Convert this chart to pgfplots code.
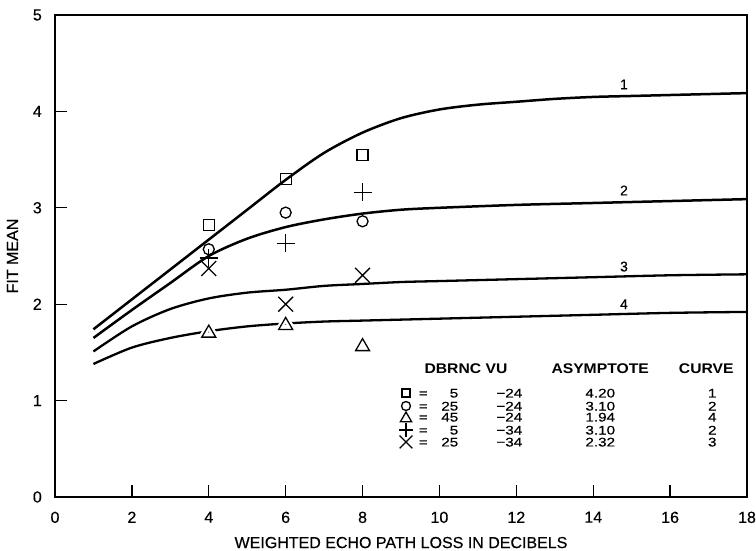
\documentclass[border=0pt]{standalone}
\usepackage{fontspec}
\setmainfont{Liberation Sans}[FakeBold=0.4]
\newfontfamily\legfont{Liberation Sans}[FakeStretch=1.22, FakeBold=0.4]
\newfontfamily\headfont{Liberation Sans}[FakeStretch=1.12]
\usepackage{pgfplots}
\pgfplotsset{compat=1.18}
\newcommand{\legrow}[4]{\makebox[18pt][c]{=}\makebox[26pt][r]{#1}\makebox[64pt][r]{#2}\makebox[156pt][c]{#3}\makebox[68pt][c]{#4}}
\pgfplotsset{
  pts/.style={only marks, forget plot, mark options={solid, line width=1.3pt, fill=white}},
  curve/.style={smooth, line width=2.5pt, black, forget plot},
}
\tikzset{
  keyrow/.style={anchor=west, inner sep=0pt, text height=9pt, text depth=0pt, font=\legfont\fontsize{12.5}{12.5}\selectfont},
  head/.style={font=\headfont\bfseries\fontsize{14}{14}\selectfont},
  clab/.style={font=\fontsize{14}{14}\selectfont},
}
\begin{document}
\begin{tikzpicture}
\begin{axis}[
  name=ax,
  width=692pt, height=482pt, scale only axis,
  xmin=0, xmax=18, ymin=0, ymax=5,
  xtick={0,2,...,18}, ytick={0,1,...,5},
  xtick pos=lower, ytick pos=left,
  tick align=inside,
  major tick length=12pt,
  major tick style={line width=1.3pt, black},
  axis line style={line width=2pt},
  /pgf/number format/assume math mode=true,
  tick label style={font=\fontsize{16}{16}\selectfont, inner sep=0pt},
  xticklabel style={anchor=north, yshift=-14.5pt},
  yticklabel style={anchor=east, xshift=-13pt},
  xlabel={WEIGHTED ECHO PATH LOSS IN DECIBELS},
  ylabel={FIT MEAN},
  label style={font=\fontsize{16}{16}\selectfont, inner sep=0pt},
  xlabel style={at={(axis description cs:0.5,-0.0824)}, anchor=north},
  ylabel style={at={(axis description cs:-0.0532,0.5)}, anchor=south, rotate=0},
  clip=false,
]
% fitted curves
\addplot[curve] coordinates {(1,1.74)(2,2.05)(3,2.36)(4,2.67)(5,2.98)(6,3.29)(7,3.57)(8,3.78)(9,3.93)(10,4.02)(11,4.07)(12,4.10)(13,4.13)(14,4.15)(15,4.16)(16,4.17)(17,4.18)(18,4.19)};
\addplot[curve] coordinates {(1,1.65)(2,1.94)(3,2.22)(4,2.50)(5,2.68)(6,2.80)(7,2.88)(8,2.94)(9,2.98)(10,3.00)(12,3.03)(14,3.05)(16,3.07)(18,3.09)};
\addplot[curve, line width=2.3pt] coordinates {(1,1.51)(2,1.77)(3,1.95)(4,2.06)(5,2.12)(6,2.15)(7,2.19)(8,2.21)(9,2.23)(10,2.24)(12,2.26)(14,2.28)(16,2.30)(18,2.31)};
\addplot[curve, line width=2.3pt] coordinates {(1,1.38)(2,1.55)(3,1.65)(4,1.72)(5,1.77)(6,1.80)(7,1.82)(8,1.83)(10,1.85)(12,1.87)(14,1.89)(16,1.91)(18,1.92)};
% white halo for triangles on curve 4
\addplot[only marks, forget plot, mark=triangle, mark size=8pt, mark options={draw=white, fill=white, line width=6pt}] coordinates {(4,1.70)(6,1.78)};
% data points
\addplot[pts, mark=square, mark size=5.5pt] coordinates {(4,2.82)(6,3.30)(8,3.55)};
\addplot[pts, mark=o, mark size=5.5pt] coordinates {(4,2.57)(6,2.95)(8,2.86)};
\addplot[pts, mark=triangle, mark size=8pt] coordinates {(4,1.70)(6,1.78)(8,1.56)};
\addplot[pts, mark=+, mark size=9pt] coordinates {(4,2.48)(6,2.63)(8,3.16)};
\addplot[pts, mark=x, mark size=10.5pt] coordinates {(4,2.37)(6,2.00)(8,2.30)};
% key symbols
\addplot[pts, mark=square, mark size=4pt] coordinates {(9.13,1.079)};
\addplot[pts, mark=o, mark size=4.5pt] coordinates {(9.13,0.944)};
\addplot[pts, mark=triangle, mark size=6.5pt] coordinates {(9.13,0.814)};
\addplot[pts, mark=+, mark size=7pt] coordinates {(9.13,0.695)};
\addplot[pts, mark=x, mark size=9pt] coordinates {(9.13,0.571)};
% key text
\node[keyrow] at (axis cs:9.34,1.079) {\legrow{5}{−24}{4.20}{1}};
\node[keyrow] at (axis cs:9.34,0.944) {\legrow{25}{−24}{3.10}{2}};
\node[keyrow] at (axis cs:9.34,0.830) {\legrow{45}{−24}{1.94}{4}};
\node[keyrow] at (axis cs:9.34,0.695) {\legrow{5}{−34}{3.10}{2}};
\node[keyrow] at (axis cs:9.34,0.571) {\legrow{25}{−34}{2.32}{3}};
% key header
\node[head] at (axis cs:10.69,1.328) {DBRNC VU};
\node[head] at (axis cs:14.18,1.328) {ASYMPTOTE};
\node[head] at (axis cs:16.94,1.328) {CURVE};
% curve labels
\node[clab] at (axis cs:14.80,4.28) {1};
\node[clab] at (axis cs:14.80,3.18) {2};
\node[clab] at (axis cs:14.80,2.39) {3};
\node[clab] at (axis cs:14.80,2.00) {4};
\end{axis}
\pgfresetboundingbox
\path (ax.south west) ++(-55pt,-53pt) rectangle ++(756pt,550pt);
\end{tikzpicture}
\end{document}
